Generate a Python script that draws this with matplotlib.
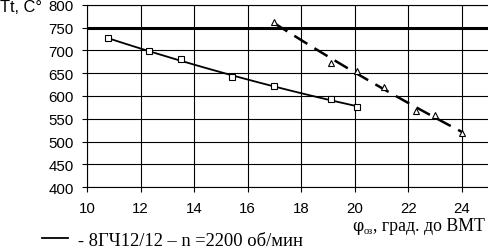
import numpy as np
import matplotlib
matplotlib.use("Agg")
import matplotlib.pyplot as plt
from matplotlib.lines import Line2D

# Data
sq_x = [10.8, 12.3, 13.5, 15.4, 17.0, 19.1, 20.1]
sq_y = [726, 698, 681, 641, 622, 593, 576]
tri_x = [17.0, 19.1, 20.1, 21.1, 22.3, 23.0, 24.0]
tri_y = [762, 673, 654, 620, 568, 559, 519]
limit_y = 750
xticks = [10, 12, 14, 16, 18, 20, 22, 24]
yticks = [400, 450, 500, 550, 600, 650, 700, 750, 800]

W, H = 489, 251
fig = plt.figure(figsize=(W / 100, H / 100), dpi=100)
ax = fig.add_axes([87 / W, 1 - 188.3 / H, (488.5 - 87) / W, (188.3 - 5.7) / H])
ax.set_xlim(10, 25)
ax.set_ylim(400, 800)
ax.set_xticks(xticks)
ax.set_yticks(yticks)
ax.grid(True, color="black", linewidth=0.8)
ax.set_axisbelow(True)
ax.spines["right"].set_visible(False)
for s in ["left", "bottom", "top"]:
    ax.spines[s].set_linewidth(0.8)
ax.tick_params(axis="both", direction="out", length=3.6, width=0.8,
               labelsize=10.8, colors="black")
ax.tick_params(axis="y", pad=6)
ax.tick_params(axis="x", pad=6.5)
for lab in ax.get_xticklabels() + ax.get_yticklabels():
    lab.set_fontfamily("Liberation Sans")

# limit line
ax.axhline(limit_y, color="black", linewidth=2.2, zorder=3)

# trend lines
p1 = np.polyfit(sq_x, sq_y, 2)
xs1 = np.linspace(min(sq_x), max(sq_x), 100)
ax.plot(xs1, np.polyval(p1, xs1), color="black", linewidth=1.3, zorder=4)
p2 = np.polyfit(tri_x, tri_y, 2)
xs2 = np.linspace(min(tri_x), max(tri_x), 100)
matplotlib.rcParams["lines.scale_dashes"] = False
l2, = ax.plot(xs2, np.polyval(p2, xs2), color="black", linewidth=1.8, zorder=4)
l2.set_dashes([11, 6])

ax.plot(sq_x, sq_y, linestyle="none", marker="s", markersize=4.2,
        markerfacecolor="white", markeredgecolor="black", markeredgewidth=0.8, zorder=5)
ax.plot(tri_x, tri_y, linestyle="none", marker="^", markersize=5,
        markerfacecolor="white", markeredgecolor="black", markeredgewidth=0.8, zorder=5)

# y label
fig.text(0 / W, 1 - 7.5 / H, "Tt, C°", fontsize=11.8, family="Liberation Sans",
         ha="left", va="center")

# x label composed of pieces
fig.canvas.draw()
r = fig.canvas.get_renderer()
yb = 1 - 231 / H
t1 = fig.text(352 / W, yb, "φ", fontsize=11.5, family="DejaVu Serif",
              ha="left", va="baseline")
bb = t1.get_window_extent(r)
t2 = fig.text(bb.x1 / W + 0.5 / W, yb - 3 / H, "оз", fontsize=7.5, family="Liberation Serif",
              ha="left", va="baseline")
bb2 = t2.get_window_extent(r)
fig.text(bb2.x1 / W, yb, ", град. до ВМТ", fontsize=12.8, family="Liberation Serif",
         ha="left", va="baseline")

# legend
ly = 1 - 238.5 / H
fig.add_artist(Line2D([42 / W, 68 / W], [ly, ly], color="black", linewidth=1.3))
fig.text(78 / W, 1 - 246 / H, "- 8ГЧ12/12 – n =2200 об/мин", fontsize=13.3,
         family="Liberation Serif", ha="left", va="baseline")

fig.savefig("out.png", dpi=100)
